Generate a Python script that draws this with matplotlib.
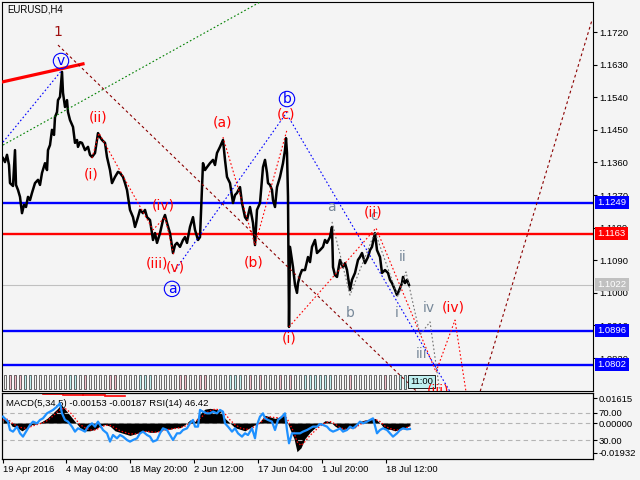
import matplotlib
matplotlib.use('Agg')
import matplotlib.pyplot as plt
from matplotlib.patches import Rectangle

plt.rcParams['font.family'] = ['Liberation Sans', 'DejaVu Sans']

# EURUSD H4 price path (bar position, price)
bars = [3, 5, 7, 9, 10, 13, 15, 16, 18, 20, 22, 24, 26, 28, 30, 32, 35, 38, 40, 42, 45, 47, 48, 50,
        52, 54, 55, 57, 58, 60, 62, 63, 65, 67, 68, 70, 73, 75, 77, 78, 80, 82, 85, 88, 90, 92, 95, 98,
        100, 102, 105, 107, 110, 112, 115, 118, 120, 123, 125, 127, 130, 133, 135, 138, 140, 143, 145,
        147, 150, 153, 155, 157, 160, 163, 165, 167, 170, 173, 175, 177, 180, 183, 185, 187, 190, 193,
        195, 198, 200, 202, 203, 205, 207, 210, 213, 215, 217, 220, 223, 225, 227, 230, 233, 235, 237,
        240, 242, 245, 247, 250, 253, 255, 257, 260, 263, 265, 267, 268, 270, 272, 273, 275, 277, 280,
        283, 285, 286, 287, 288, 289, 290, 292, 293, 295, 297, 298, 300, 302, 305, 308, 310, 312, 315,
        317, 320, 323, 325, 327, 330, 332, 333, 335, 337, 340, 343, 345, 347, 350, 352, 355, 358, 360,
        362, 365, 368, 370, 372, 375, 377, 380, 382, 385, 388, 390, 392, 395, 397, 398, 400, 402, 403,
        405, 407, 409]
prices = [1.1372, 1.1361, 1.1381, 1.1353, 1.1303, 1.1295, 1.1394, 1.1298, 1.1284, 1.1265, 1.1220,
          1.1243, 1.1237, 1.1265, 1.1256, 1.1276, 1.1303, 1.1312, 1.1298, 1.1331, 1.1358, 1.1339,
          1.1394, 1.1408, 1.1450, 1.1436, 1.1485, 1.1499, 1.1532, 1.1541, 1.1610, 1.1552, 1.1513,
          1.1532, 1.1499, 1.1477, 1.1458, 1.1414, 1.1422, 1.1403, 1.1416, 1.1414, 1.1394, 1.1403,
          1.1381, 1.1375, 1.1386, 1.1441, 1.1430, 1.1422, 1.1414, 1.1375, 1.1339, 1.1303, 1.1320,
          1.1334, 1.1331, 1.1320, 1.1303, 1.1284, 1.1229, 1.1209, 1.1182, 1.1209, 1.1229, 1.1220,
          1.1229, 1.1209, 1.1201, 1.1146, 1.1165, 1.1138, 1.1165, 1.1201, 1.1215, 1.1193, 1.1165,
          1.1110, 1.1132, 1.1138, 1.1127, 1.1146, 1.1154, 1.1138, 1.1182, 1.1209, 1.1174, 1.1146,
          1.1154, 1.1292, 1.1358, 1.1339, 1.1347, 1.1358, 1.1367, 1.1353, 1.1386, 1.1403, 1.1422,
          1.1367, 1.1320, 1.1303, 1.1248, 1.1270, 1.1276, 1.1292, 1.1248, 1.1209, 1.1201, 1.1237,
          1.1193, 1.1132, 1.1229, 1.1248, 1.1347, 1.1367, 1.1331, 1.1303, 1.1298, 1.1284, 1.1256,
          1.1237, 1.1292, 1.1320, 1.1358, 1.1394, 1.1427, 1.1386, 1.1265, 1.0906, 1.1127, 1.1091,
          1.1071, 1.1022, 1.1000, 1.1027, 1.1049, 1.1063, 1.1063, 1.1099, 1.1085, 1.1127, 1.1146,
          1.1110, 1.1118, 1.1127, 1.1146, 1.1138, 1.1154, 1.1182, 1.1071, 1.1049, 1.1044, 1.1091,
          1.1071, 1.1082, 1.1063, 1.1008, 1.1036, 1.1055, 1.1091, 1.1099, 1.1110, 1.1082, 1.1099,
          1.1118, 1.1127, 1.1165, 1.1118, 1.1099, 1.1055, 1.1063, 1.1055, 1.1036, 1.1027, 1.1008,
          1.0994, 1.1000, 1.1013, 1.1027, 1.1044, 1.1027, 1.1036, 1.1022]

price_ticks = [1.1720, 1.1630, 1.1540, 1.1450, 1.1360, 1.1270, 1.1180, 1.1090, 1.1000, 1.0910, 1.0820]
blue_levels = [1.1249, 1.0896, 1.0802]
red_levels = [1.1163]
last_price = 1.1022

# wave lines
thick_red_bars, thick_red_prices = [2, 83], [1.1582, 1.1632]
green_bars, green_prices = [3, 300], [1.1408, 1.1864]
blue_v_bars, blue_v_prices = [3, 62], [1.1416, 1.1615]
blue_ab_bars, blue_ab_prices = [174, 287], [1.1058, 1.1499]
blue_b_bars, blue_b_prices = [289, 455], [1.1483, 1.0704]
maroon_down_bars, maroon_down_prices = [58, 440], [1.1684, 1.0666]
maroon_up_bars, maroon_up_prices = [477, 592], [1.0699, 1.1753]
red_sub_bars = [92, 99, 153, 165, 174]
red_sub_prices = [1.1372, 1.1441, 1.1174, 1.1209, 1.1102]
red_abc_bars = [223, 255, 287]
red_abc_prices = [1.1430, 1.1132, 1.1450]
red_proj_bars = [289, 376, 436, 455, 468]
red_proj_prices = [1.0906, 1.1179, 1.0782, 1.0925, 1.0691]
gray_bars = [332, 350, 375, 398, 406, 420, 430, 441]
gray_prices = [1.1196, 1.0994, 1.1168, 1.0989, 1.1058, 1.0884, 1.0920, 1.0704]

# wave labels
red_labels = ['(ii)', '(i)', '(iv)', '(iii)', '(v)', '(a)', '(b)', '(c)', '(i)', '(ii)', '(iv)', '(iii)']
red_label_bars = [98, 91, 163, 157, 175, 222, 254, 286, 289, 373, 453, 438]
red_label_prices = [1.1483, 1.1328, 1.1242, 1.1082, 1.1071, 1.1469, 1.1085, 1.1491, 1.0875,
                    1.1223, 1.0961, 1.0730]
gray_labels = ['a', 'c', 'b', 'ii', 'i', 'iv', 'iii']
gray_label_bars = [331, 374, 350, 403, 397, 429, 422]
gray_label_prices = [1.1237, 1.1212, 1.0944, 1.1099, 1.0944, 1.0958, 1.0831]
circle_labels = ['v', 'a', 'b']
circle_bars = [61, 172, 287]
circle_prices = [1.1640, 1.1011, 1.1535]

# session markers along the bottom: w = plain, p = pink, c = cyan
marker_codes = ('wpppccwwww' 'wwwccwpwww' 'wppwwwwccc' 'wwwwwppwwp' 'pwwwwcccwp'
                'wpwwwpwpww' 'ccccccwwwp' 'wwwwwwpwwcc')

# MACD(5,34,5) and RSI(14)
macd_bars = [3, 8, 12, 17, 22, 27, 32, 37, 42, 47, 52, 57, 61, 65, 70, 75, 80, 85, 90, 95, 100, 105,
             110, 115, 120, 125, 130, 135, 140, 145, 150, 155, 160, 165, 170, 175, 180, 185, 190, 195,
             200, 205, 210, 215, 220, 225, 230, 235, 240, 245, 250, 255, 260, 265, 270, 275, 280, 284,
             287, 290, 294, 297, 301, 305, 310, 315, 320, 325, 330, 335, 340, 345, 350, 355, 360, 365,
             370, 375, 380, 385, 390, 395, 400, 405, 410]
macd_vals = [0.003, 0.002, -0.002, -0.003, -0.005, -0.003, -0.001, -0.0005, 0.001, 0.003, 0.006,
             0.009, 0.012, 0.009, 0.005, 0.001, -0.003, -0.005, -0.005, -0.004, -0.002, -0.001,
             -0.002, -0.005, -0.006, -0.007, -0.008, -0.007, -0.006, -0.005, -0.006, -0.006, -0.005,
             -0.004, -0.004, -0.003, -0.003, -0.001, 0.002, 0.001, 0.006, 0.009, 0.0095, 0.009, 0.008,
             0.003, 0.000, -0.003, -0.004, -0.005, -0.003, -0.001, 0.001, 0.005, 0.004, 0.003, 0.004,
             0.005, 0.001, -0.004, -0.010, -0.0185, -0.016, -0.010, -0.006, -0.003, -0.001, 0.0015,
             0.001, -0.002, -0.004, -0.004, -0.003, -0.003, 0.001, 0.002, 0.002, 0.003, 0.000,
             -0.004, -0.004, -0.005, -0.004, -0.003, -0.0015]
signal_vals = [0.002, 0.0025, 0.000, -0.002, -0.003, -0.0035, -0.002, -0.001, 0.000, 0.0015, 0.004,
               0.007, 0.009, 0.0095, 0.007, 0.003, -0.001, -0.003, -0.0045, -0.0045, -0.003, -0.0015,
               -0.0015, -0.003, -0.005, -0.006, -0.007, -0.007, -0.0065, -0.0055, -0.0055, -0.006,
               -0.0055, -0.0045, -0.004, -0.0035, -0.003, -0.002, 0.000, 0.001, 0.003, 0.006, 0.008,
               0.009, 0.0085, 0.006, 0.002, -0.001, -0.003, -0.004, -0.004, -0.002, 0.000, 0.003,
               0.004, 0.0035, 0.0035, 0.0045, 0.003, -0.001, -0.006, -0.012, -0.0145, -0.012, -0.008,
               -0.005, -0.002, 0.000, 0.001, -0.0005, -0.003, -0.004, -0.0035, -0.003, -0.001, 0.001,
               0.002, 0.0025, 0.001, -0.002, -0.0035, -0.0045, -0.0045, -0.0035, -0.00187]
rsi_bars = [3, 8, 10, 13, 17, 20, 23, 27, 30, 33, 37, 40, 43, 47, 50, 53, 57, 60, 62, 65, 68, 72,
            75, 78, 82, 85, 88, 92, 95, 98, 100, 103, 107, 110, 113, 117, 120, 123, 127, 130, 133,
            137, 140, 143, 147, 150, 153, 157, 160, 163, 167, 170, 173, 177, 180, 183, 187, 190, 193,
            195, 198, 200, 203, 207, 210, 213, 217, 220, 223, 225, 228, 232, 235, 238, 242, 245, 248,
            252, 255, 257, 260, 263, 265, 268, 272, 275, 278, 282, 285, 287, 289, 292, 295, 300, 303,
            307, 310, 313, 317, 320, 323, 327, 330, 333, 337, 340, 343, 347, 350, 353, 357, 360, 363,
            367, 370, 373, 377, 380, 383, 387, 390, 393, 397, 400, 403, 407, 410]
rsi_vals = [64.6, 57.2, 44.8, 42.4, 49.8, 39.9, 35.0, 44.8, 52.3, 57.2, 54.7, 59.7, 62.1, 69.5,
            72.0, 74.5, 79.4, 84.3, 69.5, 59.7, 57.2, 49.8, 42.4, 47.3, 44.8, 42.4, 49.8, 54.7,
            49.8, 57.2, 52.3, 44.8, 39.9, 27.6, 37.4, 32.5, 37.4, 35.0, 30.0, 27.6, 30.0, 32.5,
            39.9, 42.4, 37.4, 35.0, 27.6, 30.0, 39.9, 47.3, 44.8, 37.4, 30.0, 39.9, 39.9, 44.8,
            47.3, 54.7, 59.7, 49.8, 49.8, 74.5, 72.0, 69.5, 69.5, 72.0, 69.5, 74.5, 72.0, 54.7,
            49.8, 42.4, 47.3, 39.9, 35.0, 39.9, 37.4, 47.3, 32.5, 52.3, 64.6, 69.5, 62.1, 59.7,
            57.2, 44.8, 59.7, 64.6, 69.5, 44.8, 25.1, 39.9, 39.9, 39.9, 42.4, 44.8, 47.3, 49.8,
            49.8, 53.7, 52.3, 49.8, 44.8, 42.4, 44.8, 47.3, 42.4, 44.8, 49.8, 47.3, 52.3, 57.2,
            54.7, 57.2, 59.7, 62.1, 39.9, 44.8, 47.3, 44.8, 39.9, 35.0, 39.9, 44.8, 47.3, 45.8, 46.42]
top_mark_bars = [43, 63, 83, 105, 125]
top_mark_vals = [0.0187, 0.0183, 0.0179, 0.0175]

date_ticks = [3, 66, 130, 194, 258, 322, 386]
date_labels = ['19 Apr 2016', '4 May 04:00', '18 May 20:00', '2 Jun 12:00', '17 Jun 04:00',
               '1 Jul 20:00', '18 Jul 12:00']

BG = '#f4f4f4'
fig = plt.figure(figsize=(6.4, 4.8), dpi=100, facecolor=BG)


def px_box(left, top, right, bottom):
    return [left / 640, 1 - bottom / 480, (right - left) / 640, (bottom - top) / 480]


ax = fig.add_axes(px_box(2, 2, 593, 391), facecolor=BG)
axm = fig.add_axes(px_box(2, 393, 593, 459), facecolor=BG)
axr = axm.twinx()

# ---- price panel ----
ax.set_xlim(2, 593)
ax.set_ylim(1.07292, 1.18028)
ax.axhline(last_price, color='#c0c0c0', lw=0.8, zorder=1)
for p in blue_levels:
    ax.axhline(p, color='#0000ff', lw=1.7, zorder=2)
for p in red_levels:
    ax.axhline(p, color='#ff0000', lw=1.7, zorder=2)

ax.plot(bars, prices, color='black', lw=1.8, zorder=3)

dot = (0, (1.5, 2.0))
ax.plot(thick_red_bars, thick_red_prices, color='#ff0000', lw=2.3, zorder=4)
ax.plot(green_bars, green_prices, color='#008000', lw=0.8, ls=dot, zorder=4)
ax.plot(blue_v_bars, blue_v_prices, color='#0000ff', lw=0.8, ls=dot, zorder=4)
ax.plot(blue_ab_bars, blue_ab_prices, color='#0000ff', lw=0.8, ls=dot, zorder=4)
ax.plot(blue_b_bars, blue_b_prices, color='#0000ff', lw=0.8, ls=dot, zorder=4)
ax.plot(maroon_down_bars, maroon_down_prices, color='#8b0000', lw=0.8, ls=(0, (2.5, 2.5)), zorder=4)
ax.plot(maroon_up_bars, maroon_up_prices, color='#8b0000', lw=0.8, ls=(0, (2.5, 2.5)), zorder=4)
ax.plot(red_sub_bars, red_sub_prices, color='#ff0000', lw=0.8, ls=dot, zorder=4)
ax.plot(red_abc_bars, red_abc_prices, color='#ff0000', lw=0.8, ls=dot, zorder=4)
ax.plot(red_proj_bars, red_proj_prices, color='#ff0000', lw=0.8, ls=dot, zorder=4)
ax.plot(gray_bars, gray_prices, color='#707070', lw=0.8, ls=dot, zorder=4)

for i, code in enumerate(marker_codes):
    fc = {'w': BG, 'p': '#f6c0cc', 'c': '#bff0f0'}[code]
    ax.add_patch(Rectangle((4 + 5 * i, 1.0736), 2.2, 0.0036, fc=fc, ec='black', lw=0.4, zorder=5))
ax.text(410, 1.0755, '11:00', ha='left', va='center', fontsize=6.8, zorder=6,
        bbox=dict(boxstyle='square,pad=0.2', fc='#bff0f0', ec='black', lw=0.6))

for t, b, p in zip(gray_labels, gray_label_bars, gray_label_prices):
    ax.text(b, p, t, color='#778899', fontsize=10, family='DejaVu Sans',
            ha='center', va='center', zorder=7, clip_on=True)
for t, b, p in zip(red_labels, red_label_bars, red_label_prices):
    ax.text(b, p, t, color='#ff0000', fontsize=10, family='DejaVu Sans',
            ha='center', va='center', zorder=7, clip_on=True)
for t, b, p in zip(circle_labels, circle_bars, circle_prices):
    ax.text(b, p, t, color='#0000ff', fontsize=10, family='DejaVu Sans', ha='center', va='center',
            zorder=7, bbox=dict(boxstyle='circle,pad=0.05', fc='none', ec='#0000ff', lw=0.8))
ax.text(58, 1.1720, '1', color='#a01010', fontsize=10, family='DejaVu Sans',
        ha='center', va='center', zorder=7)
ax.text(0.0085, 0.981, 'EURUSD,H4', transform=ax.transAxes, fontsize=6.9, va='center', ha='left')

ax.set_xticks([])
ax.yaxis.tick_right()
ax.set_yticks(price_ticks)
ax.set_yticklabels([f'{p:.4f}' for p in price_ticks])
ax.tick_params(axis='y', direction='out', length=3, width=0.8, pad=1.2, labelsize=6.8)

box_prices = [1.1249, 1.1163, 1.1022, 1.0896, 1.0802]
box_colors = ['#0000ff', '#ff0000', '#c0c0c0', '#0000ff', '#0000ff']
for p, c in zip(box_prices, box_colors):
    ax.text(1.0075, p, f'{p:.4f}', transform=ax.get_yaxis_transform(), color='white',
            fontsize=6.8, ha='left', va='center', clip_on=False, zorder=10,
            bbox=dict(boxstyle='square,pad=0.22', fc=c, ec='none'))

# ---- MACD / RSI panel ----
axm.set_xlim(2, 593)
axm.set_ylim(-0.0232, 0.0194)
axm.fill_between(macd_bars, 0, macd_vals, color='black', lw=0, zorder=2)
axm.plot(macd_bars, signal_vals, color='#ff0000', lw=0.9, ls=(0, (1.2, 1.5)), zorder=3)
axm.axhline(0, color='#b4b4b4', lw=0.8, ls=(0, (4, 3)), zorder=1)
for i in range(len(top_mark_vals)):
    axm.plot(top_mark_bars[i:i + 2], [top_mark_vals[i]] * 2, color='#ff0000', lw=1.2)

axr.set_ylim(1.87, 99.6)
axr.axhline(70, color='#b4b4b4', lw=0.8, ls=(0, (4, 3)))
axr.axhline(30, color='#b4b4b4', lw=0.8, ls=(0, (4, 3)))
axr.plot(rsi_bars, rsi_vals, color='#1e90ff', lw=1.6, zorder=4)

axm.yaxis.tick_right()
axm.set_yticks([0.01615, 0.0, -0.01932])
axm.set_yticklabels(['0.01615', '0.00000', '-0.01932'])
axr.set_yticks([70, 30])
axr.set_yticklabels(['70.00', '30.00'])
for a in (axm, axr):
    a.tick_params(axis='y', direction='out', length=3, width=0.8, pad=1.2, labelsize=6.8)

axm.set_xticks(date_ticks)
axm.set_xticklabels(date_labels, ha='left')
axm.tick_params(axis='x', direction='out', length=3, width=0.8, pad=1.5, labelsize=6.8)

axm.text(0.007, 0.848, 'MACD(5,34,5) -0.00153 -0.00187 RSI(14) 46.42', transform=axm.transAxes,
         fontsize=6.8, ha='left', va='center', zorder=10)

plt.savefig('out.png', dpi=100, facecolor=BG)
